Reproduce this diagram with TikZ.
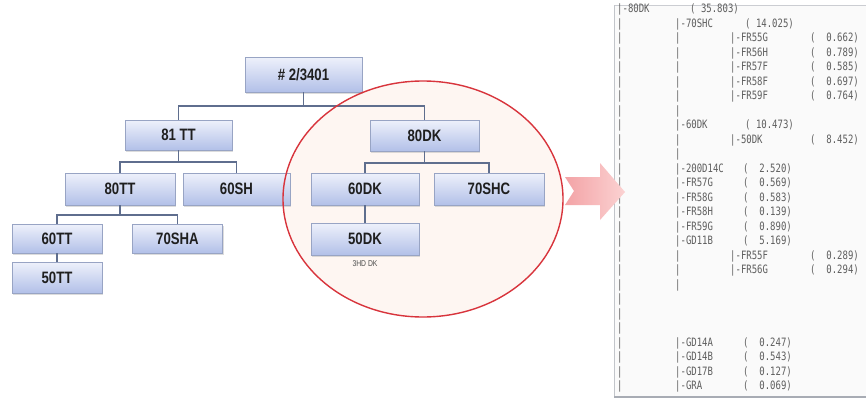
\documentclass[tikz,border=0pt]{standalone}
\usepackage{fontspec}
\setmainfont{Liberation Sans}
\newfontfamily\boxfont[FakeStretch=0.8]{Liberation Sans}
\newfontfamily\listfont[FakeStretch=0.78]{DejaVu Sans Mono}
\usetikzlibrary{shapes.geometric,shadows,calc}

\definecolor{boxtop}{HTML}{EEF1FB}
\definecolor{boxbot}{HTML}{B2C0E8}
\definecolor{boxline}{HTML}{98A4C4}
\definecolor{linkc}{HTML}{5F6E8E}
\definecolor{ringc}{HTML}{D8343C}
\definecolor{ringfill}{HTML}{FEF6F2}
\definecolor{arrowA}{HTML}{F3A3A6}
\definecolor{arrowB}{HTML}{FBD2D2}
\definecolor{listc}{HTML}{5E5E5E}
\definecolor{panelline}{HTML}{A8ACB4}

\tikzset{
  tbox/.style={draw=boxline, line width=0.6pt, top color=boxtop, bottom color=boxbot,
    inner sep=0pt, text=black!88, font=\boxfont\bfseries\fontsize{16.5}{16.5}\selectfont,
    drop shadow={shadow xshift=1pt, shadow yshift=-1.5pt, fill=black!30, opacity=.45}},
  link/.style={draw=linkc, line width=1.2pt},
  lst/.style={inner sep=0pt, text=listc, font=\listfont\fontsize{11.5}{11.5}\selectfont},
  tag/.style={inner sep=0pt, text=black!70, font=\boxfont\fontsize{8.5}{8.5}\selectfont}
}

\begin{document}
\begin{tikzpicture}[x=1pt,y=-1pt]
\useasboundingbox (0,0) rectangle (866,399);
\fill[white] (0,0) rectangle (866,399);

% highlight ring behind the 80DK branch
\fill[ringfill] (423,199) ellipse [x radius=140pt, y radius=118pt];

% organisation boxes
\node[tbox, minimum width=117pt, minimum height=35pt] (root) at (303.5,74.5) {\# 2/3401};
\node[tbox, minimum width=107pt, minimum height=30pt] (tt81) at (178.5,135) {81 TT};
\node[tbox, minimum width=109pt, minimum height=31pt] (dk80) at (424.5,135.5) {80DK};
\node[tbox, minimum width=110pt, minimum height=32pt] (tt80) at (120,189) {80TT};
\node[tbox, minimum width=107pt, minimum height=32pt] (sh60) at (236.5,189) {60SH};
\node[tbox, minimum width=108pt, minimum height=32pt] (dk60) at (365,189) {60DK};
\node[tbox, minimum width=110pt, minimum height=32pt] (shc70) at (489,189) {70SHC};
\node[tbox, minimum width=90pt, minimum height=29pt] (tt60) at (57,238.5) {60TT};
\node[tbox, minimum width=90pt, minimum height=29pt] (sha70) at (177.5,238.5) {70SHA};
\node[tbox, minimum width=90pt, minimum height=31pt] (tt50) at (57,277.5) {50TT};
\node[tbox, minimum width=108pt, minimum height=32pt] (dk50) at (365,239) {50DK};
\node[tag] (dk50tag) at (365,264) {3HD DK};

% connectors
\coordinate (b1) at (303.5,106);
\coordinate (b2) at (178.5,162);
\coordinate (b3) at (120,215);
\coordinate (b4) at (424.5,163);
\draw[link] (root.south) -- (b1);
\draw[link] (tt81.north) |- (b1) -| (dk80.north);
\draw[link] (tt81.south) -- (b2);
\draw[link] (tt80.north) |- (b2) -| (sh60.north);
\draw[link] (tt80.south) -- (b3);
\draw[link] (tt60.north) |- (b3) -| (sha70.north);
\draw[link] (tt60.south) -- (tt50.north);
\draw[link] (dk80.south) -- (b4);
\draw[link] (dk60.north) |- (b4) -| (shc70.north);
\draw[link] (dk60.south) -- (dk50.north);

% ring outline
\draw[ringc, line width=1.4pt] (423,199) ellipse [x radius=140pt, y radius=118pt];

% listing panel
\fill[white!98!black] (614,5) rectangle (870,397);
\draw[panelline!60, line width=0.8pt] (614,5) -- (870,5);
\draw[panelline!70, line width=0.8pt] (614,5) -- (614,397);
\draw[panelline, line width=1.6pt] (614,397) -- (870,397);

% first column: one bar per row
\node[lst, anchor=base west] (g0) at (617,12.5) {|-80DK};
\foreach \k in {1,...,26}
  \node[lst, anchor=base west] (g\k) at (617,12.5+14.5*\k) {|};

% remaining columns
\foreach \k/\x/\t [count=\n] in {
  0/690/{(\ 35.803)},
  1/675/{|-70SHC}, 1/745/{(\ 14.025)},
  2/675/{|}, 2/730/{|-FR55G}, 2/810/{(\ \ 0.662)},
  3/675/{|}, 3/730/{|-FR56H}, 3/810/{(\ \ 0.789)},
  4/675/{|}, 4/730/{|-FR57F}, 4/810/{(\ \ 0.585)},
  5/675/{|}, 5/730/{|-FR58F}, 5/810/{(\ \ 0.697)},
  6/675/{|}, 6/730/{|-FR59F}, 6/810/{(\ \ 0.764)},
  7/675/{|},
  8/675/{|-60DK}, 8/745/{(\ 10.473)},
  9/675/{|}, 9/730/{|-50DK}, 9/810/{(\ \ 8.452)},
  10/675/{|},
  11/675/{|-200D14C}, 11/743/{(\ \ 2.520)},
  12/675/{|-FR57G}, 12/743/{(\ \ 0.569)},
  13/675/{|-FR58G}, 13/743/{(\ \ 0.583)},
  14/675/{|-FR58H}, 14/743/{(\ \ 0.139)},
  15/675/{|-FR59G}, 15/743/{(\ \ 0.890)},
  16/675/{|-GD11B}, 16/743/{(\ \ 5.169)},
  17/675/{|}, 17/730/{|-FR55F}, 17/810/{(\ \ 0.289)},
  18/675/{|}, 18/730/{|-FR56G}, 18/810/{(\ \ 0.294)},
  19/675/{|},
  23/675/{|-GD14A}, 23/743/{(\ \ 0.247)},
  24/675/{|-GD14B}, 24/743/{(\ \ 0.543)},
  25/675/{|-GD17B}, 25/743/{(\ \ 0.127)},
  26/675/{|-GRA}, 26/743/{(\ \ 0.069)}}
  \node[lst, anchor=base west] (e\n) at (\x,12.5+14.5*\k) {\t};

% pointer from the ring to the listing
\shade[left color=arrowA, right color=arrowB]
  (565,177) -- (600,177) -- (600,163) -- (625,192) -- (600,220) -- (600,205)
  -- (565,205) -- (574,191) -- cycle;
\end{tikzpicture}
\end{document}
